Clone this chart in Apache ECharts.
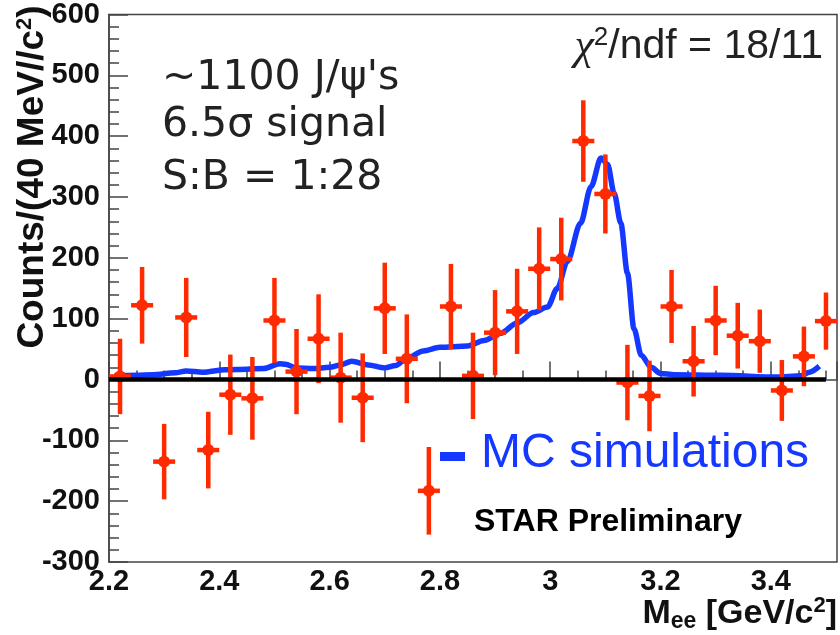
<!DOCTYPE html>
<html>
<head>
<meta charset="utf-8">
<script src="https://cdn.jsdelivr.net/npm/echarts@6/dist/echarts.min.js"></script>
<style>
  html, body { margin: 0; padding: 0; background: #fff; }
  #chart { width: 840px; height: 635px; }
</style>
</head>
<body>
<div id="chart"></div>
<script>
// invariant mass bin centres (GeV/c^2), 40 MeV bins
const massBins = [2.22, 2.26, 2.30, 2.34, 2.38, 2.42, 2.46, 2.50, 2.54, 2.58, 2.62,
  2.66, 2.70, 2.74, 2.78, 2.82, 2.86, 2.90, 2.94, 2.98, 3.02, 3.06,
  3.10, 3.14, 3.18, 3.22, 3.26, 3.30, 3.34, 3.38, 3.42, 3.46, 3.50]
// background-subtracted counts and their errors
const counts = [5, 122, -135, 102, -116, -25, -31, 97, 13, 67, 3,
  -30, 117, 34, -183, 120, 6, 77, 112, 182, 198, 392,
  305, -5, -27, 120, 30, 97, 72, 63, -18, 38, 96]
const errors = [62, 63, 62, 65, 63, 66, 68, 70, 70, 73, 74,
  73, 75, 73, 72, 70, 71, 70, 70, 68, 68, 67,
  65, 62, 58, 60, 58, 57, 54, 52, 50, 49, 47]

// MC simulation curve
const mcMass = [2.21, 2.25, 2.28, 2.32, 2.34, 2.37, 2.41, 2.45, 2.48, 2.51, 2.52,
  2.54, 2.57, 2.60, 2.62, 2.64, 2.67, 2.70, 2.72, 2.74, 2.77, 2.80,
  2.85, 2.88, 2.91, 2.94, 2.97, 2.995, 3.013, 3.031, 3.055, 3.074, 3.092,
  3.104, 3.116, 3.128, 3.14, 3.152, 3.165, 3.183, 3.20, 3.225, 3.31,
  3.41, 3.455, 3.47, 3.488]
const mcCounts = [6, 7, 8, 11, 14, 12, 16, 17, 18, 26, 25,
  19, 18, 20, 24, 30, 24, 19, 23, 35, 47, 53,
  55, 64, 76, 93, 110, 119, 150, 194, 257, 317, 364,
  354, 306, 257, 175, 83, 40, 20, 10, 8, 7,
  4, 6, 12, 22]

const xTicks = [2.2, 2.4, 2.6, 2.8, 3.0, 3.2, 3.4]
const zeroLine = [[2.2, 0], [3.5, 0]]

const RED = '#ff2a00'
const BLUE = '#1438ff'
const halfBin = 0.02
const SANS = 'Liberation Sans, Arial, sans-serif'

const chart = echarts.init(document.getElementById('chart'))

const pointData = massBins.map((m, i) => [m, counts[i], errors[i]])
const mcData = mcMass.map((m, i) => [m, mcCounts[i]])

const tickFont = {
  fontFamily: SANS,
  fontWeight: 'bold',
  fontSize: 29,
  color: '#111'
}

const option = {
  animation: false,
  backgroundColor: '#fff',
  grid: {
    left: 109,
    top: 11,
    right: 3,
    bottom: 73,
    show: true,
    borderColor: '#444',
    borderWidth: 1.5
  },
  xAxis: {
    type: 'value',
    min: 2.2,
    max: 3.52,
    interval: 0.2,
    axisLine: { lineStyle: { color: '#444', width: 1.5 } },
    axisTick: { inside: true, length: 18, lineStyle: { color: '#444', width: 1.5 } },
    minorTick: { show: true, splitNumber: 4, length: 9, lineStyle: { color: '#444', width: 1.5 } },
    splitLine: { show: false },
    axisLabel: Object.assign({}, tickFont, {
      margin: 5,
      showMaxLabel: false,
      formatter: v => (xTicks.some(t => Math.abs(t - v) < 1e-6) ? String(+v.toFixed(1)) : '')
    })
  },
  yAxis: {
    type: 'value',
    min: -300,
    max: 600,
    interval: 100,
    axisLine: { show: true, lineStyle: { color: '#444', width: 1.5 } },
    axisTick: { show: true, inside: true, length: 19, lineStyle: { color: '#444', width: 1.5 } },
    minorTick: { show: true, splitNumber: 5, length: 10, lineStyle: { color: '#444', width: 1.5 } },
    splitLine: { show: false },
    axisLabel: Object.assign({}, tickFont, { margin: 9 })
  },
  series: [
    {
      name: 'MC simulations',
      type: 'line',
      data: mcData,
      smooth: 0.3,
      smoothMonotone: 'x',
      showSymbol: false,
      lineStyle: { color: BLUE, width: 5.5 },
      z: 2
    },
    {
      name: 'data',
      type: 'custom',
      data: pointData,
      z: 3,
      renderItem: (params, api) => {
        const x = api.value(0)
        const y = api.value(1)
        const e = api.value(2)
        const c = api.coord([x, y])
        const top = api.coord([x, y + e])
        const bot = api.coord([x, y - e])
        const l = api.coord([x - halfBin, y])
        const r = api.coord([x + halfBin, y])
        return {
          type: 'group',
          children: [
            {
              type: 'line',
              shape: { x1: c[0], y1: top[1], x2: c[0], y2: bot[1] },
              style: { stroke: RED, lineWidth: 4.5 }
            },
            {
              type: 'line',
              shape: { x1: l[0], y1: c[1], x2: r[0], y2: c[1] },
              style: { stroke: RED, lineWidth: 4.5 }
            },
            {
              type: 'circle',
              shape: { cx: c[0], cy: c[1], r: 6 },
              style: { fill: RED }
            }
          ]
        }
      }
    },
    {
      name: 'zero',
      type: 'line',
      data: zeroLine,
      showSymbol: false,
      lineStyle: { color: '#000', width: 4.5 },
      z: 4
    }
  ],
  graphic: [
    {
      type: 'text',
      x: 33,
      y: 177,
      rotation: Math.PI / 2,
      style: {
        text: 'Counts/(40 MeV//c{sup|2})',
        rich: { sup: { fontSize: 22, fontWeight: 'bold', fontFamily: SANS, padding: [0, 0, 16, 0], fill: '#111' } },
        fontFamily: SANS,
        fontWeight: 'bold',
        fontSize: 37,
        fill: '#111',
        align: 'center',
        verticalAlign: 'middle'
      }
    },
    {
      type: 'text',
      x: 837,
      y: 614,
      style: {
        text: 'M{sub|ee} [GeV/c{sup|2}]',
        rich: {
          sub: { fontSize: 23, fontWeight: 'bold', fontFamily: SANS, padding: [16, 0, 0, 0], fill: '#111' },
          sup: { fontSize: 22, fontWeight: 'bold', fontFamily: SANS, padding: [0, 0, 16, 0], fill: '#111' }
        },
        fontFamily: SANS,
        fontWeight: 'bold',
        fontSize: 34,
        fill: '#111',
        align: 'right',
        verticalAlign: 'middle'
      }
    },
    {
      type: 'text',
      x: 162,
      y: 78,
      style: { text: "~1100 J/ψ's", fontFamily: 'DejaVu Sans, sans-serif', fontSize: 41, fill: '#222', verticalAlign: 'middle' }
    },
    {
      type: 'text',
      x: 162,
      y: 125,
      style: { text: '6.5σ signal', fontFamily: 'DejaVu Sans, sans-serif', fontSize: 41, fill: '#222', verticalAlign: 'middle' }
    },
    {
      type: 'text',
      x: 162,
      y: 178,
      style: { text: 'S:B = 1:28', fontFamily: 'DejaVu Sans, sans-serif', fontSize: 41, fill: '#222', verticalAlign: 'middle' }
    },
    {
      type: 'text',
      x: 823,
      y: 47,
      style: {
        text: '{chi|χ}{sup|2}/ndf = 18/11',
        rich: {
          chi: { fontFamily: 'Liberation Serif, serif', fontStyle: 'italic', fontSize: 44, fill: '#222' },
          sup: { fontFamily: SANS, fontSize: 26, padding: [0, 0, 18, 0], fill: '#222' }
        },
        fontFamily: SANS,
        fontSize: 41,
        fill: '#222',
        align: 'right',
        verticalAlign: 'middle'
      }
    },
    {
      type: 'rect',
      shape: { x: 440, y: 452, width: 25, height: 9 },
      style: { fill: BLUE }
    },
    {
      type: 'text',
      x: 481,
      y: 454,
      style: { text: 'MC simulations', fontFamily: SANS, fontSize: 48, fill: BLUE, verticalAlign: 'middle' }
    },
    {
      type: 'text',
      x: 474,
      y: 522,
      style: { text: 'STAR Preliminary', fontFamily: SANS, fontWeight: 'bold', fontSize: 32, fill: '#000', verticalAlign: 'middle' }
    }
  ]
}

chart.setOption(option)
</script>
</body>
</html>
